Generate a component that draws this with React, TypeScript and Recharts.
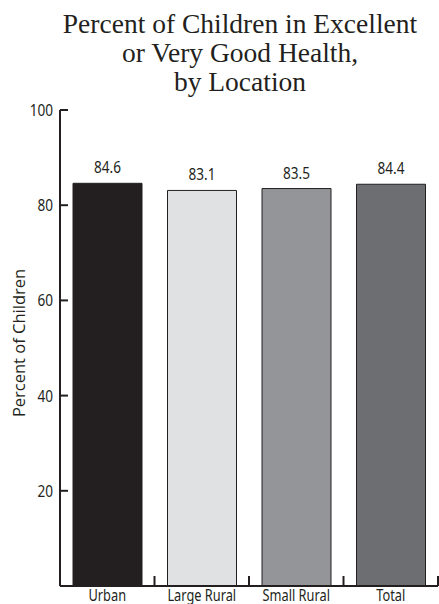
import { Bar, BarChart, Cell, LabelList, XAxis, YAxis } from "recharts";

const categories = ["Urban", "Large Rural", "Small Rural", "Total"];
const percents = [84.6, 83.1, 83.5, 84.4];
const yTicks = [20, 40, 60, 80, 100];
const barColors = ["#231f20", "#e0e1e3", "#939598", "#6d6e71"];

const data = categories.map((name, i) => ({ name, value: percents[i] }));

const W = 439;
const H = 604;
const PLOT_LEFT = 60;
const PLOT_RIGHT = 438;
const BAND = (PLOT_RIGHT - PLOT_LEFT) / categories.length;
const INK = "#231f20";
const SANS = "'Noto Sans', 'Open Sans', sans-serif";

// no condensed face installed, so squeeze a regular one
function Narrow({ x, y, anchor, size, children }: any) {
  return (
    <text
      transform={`translate(${x} ${y}) scale(0.8 1)`}
      textAnchor={anchor}
      fill={INK}
      fontFamily={SANS}
      fontSize={size}
    >
      {children}
    </text>
  );
}

function YTick({ x, y, payload }: any) {
  return (
    <g>
      <line x1={x} x2={x + 8} y1={y} y2={y} stroke={INK} strokeWidth={2} />
      <Narrow x={x - 7} y={y + 6} anchor="end" size={17}>
        {payload.value}
      </Narrow>
    </g>
  );
}

function XTick({ x, y, payload }: any) {
  const edge = x + BAND / 2;
  return (
    <g>
      <line x1={edge} x2={edge} y1={y} y2={y - 10} stroke={INK} strokeWidth={2} />
      <Narrow x={x} y={y + 15} anchor="middle" size={16}>
        {payload.value}
      </Narrow>
    </g>
  );
}

function ValueLabel({ x, y, width, value }: any) {
  return (
    <Narrow x={x + width / 2} y={y - 10} anchor="middle" size={17}>
      {Number(value).toFixed(1)}
    </Narrow>
  );
}

const titleLines = [
  { text: "Percent of Children in Excellent", base: 33 },
  { text: "or Very Good Health,", base: 62 },
  { text: "by Location", base: 91 },
];

export default function App() {
  return (
    <div style={{ position: "absolute", left: 0, top: 0, width: W, height: H, background: "#fff", overflow: "hidden" }}>
      <BarChart
        width={W}
        height={H}
        data={data}
        margin={{ top: 110, right: W - PLOT_RIGHT, bottom: 0, left: 0 }}
        barCategoryGap={13}
      >
        <XAxis
          dataKey="name"
          axisLine={{ stroke: INK, strokeWidth: 2 }}
          tickLine={false}
          tickSize={0}
          tickMargin={0}
          height={18}
          interval={0}
          tick={<XTick />}
        />
        <YAxis
          domain={[0, 100]}
          ticks={yTicks}
          width={PLOT_LEFT}
          axisLine={{ stroke: INK, strokeWidth: 2 }}
          tickLine={false}
          tickSize={0}
          tickMargin={0}
          interval={0}
          tick={<YTick />}
        />
        <Bar dataKey="value" stroke={INK} strokeWidth={1} isAnimationActive={false}>
          {data.map((d, i) => (
            <Cell key={d.name} fill={barColors[i]} />
          ))}
          <LabelList dataKey="value" content={<ValueLabel />} />
        </Bar>
      </BarChart>
      <svg width={W} height={H} style={{ position: "absolute", left: 0, top: 0, pointerEvents: "none" }}>
        {titleLines.map((l) => (
          <text
            key={l.text}
            x={240}
            y={l.base}
            textAnchor="middle"
            fill={INK}
            fontFamily="'Liberation Serif', 'DejaVu Serif', serif"
            fontSize={27.5}
          >
            {l.text}
          </text>
        ))}
        <text
          transform="translate(25 343) rotate(-90)"
          textAnchor="middle"
          fill={INK}
          fontFamily="'Open Sans', sans-serif"
          fontSize={16.5}
        >
          Percent of Children
        </text>
      </svg>
    </div>
  );
}
